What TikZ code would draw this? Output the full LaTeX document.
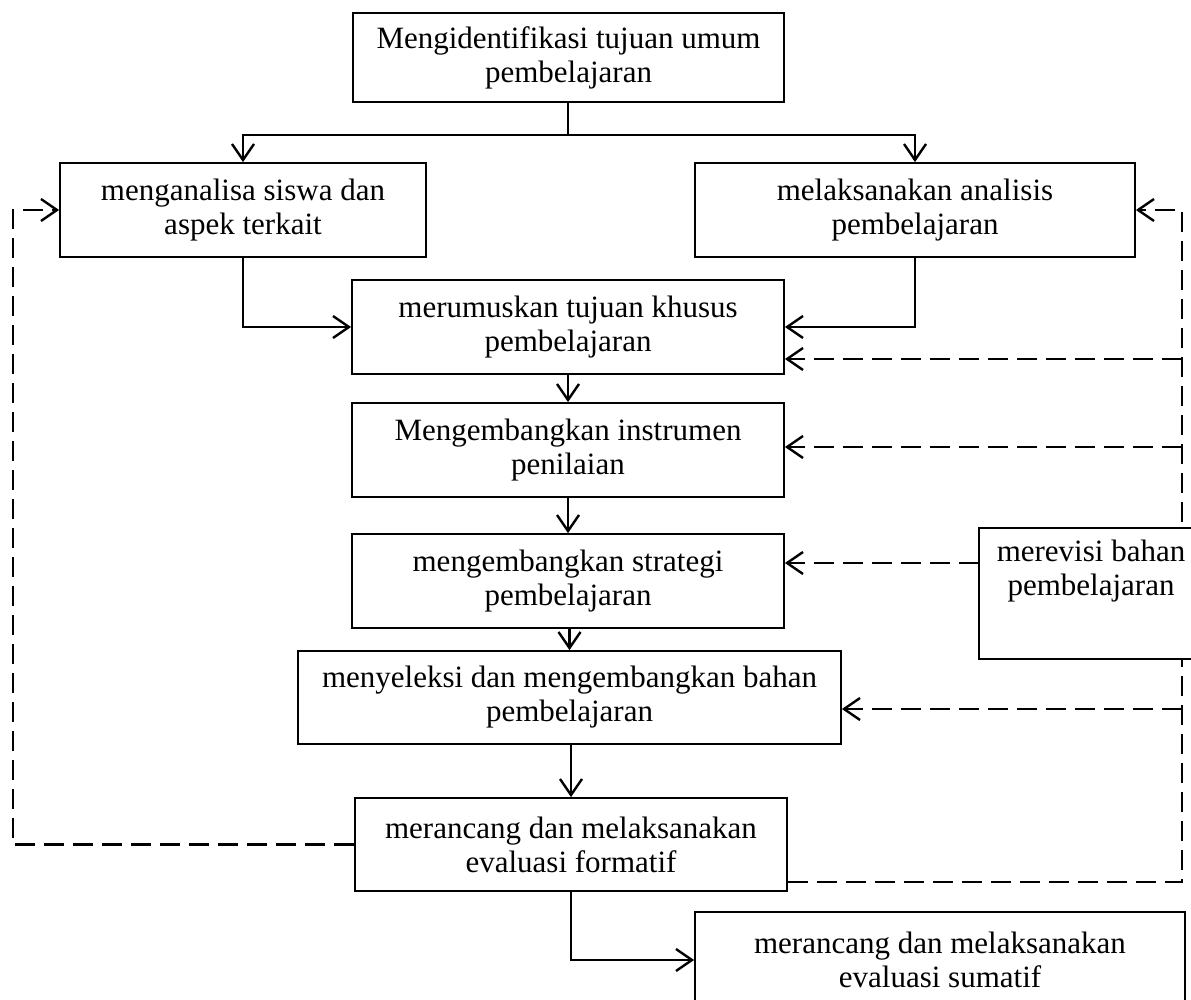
\documentclass[tikz,border=0pt]{standalone}
\usepackage{fontspec}
\setmainfont{Liberation Serif}
\usetikzlibrary{arrows.meta}
\begin{document}
\begin{tikzpicture}[x=1pt,y=-1pt,
  box/.style={draw, line width=1.8pt, fill=white, inner sep=0pt, align=center,
    font=\fontsize{31}{34}\selectfont},
  conn/.style={line width=2.4pt, -{Straight Barb[length=16pt,width=22pt,line width=2.4pt]}},
  plain/.style={line width=2.4pt},
  dsh/.style={line width=2.4pt, dash pattern=on 20pt off 9pt},
  dconn/.style={dsh, -{Straight Barb[length=16pt,width=22pt,line width=2.4pt]}}]
\useasboundingbox (0,0) rectangle (1191,1000);

\coordinate (rtop) at (1182,210);
\coordinate (rbot) at (1182,882);
\coordinate (r4) at (1182,359);
\coordinate (r5) at (1182,447);
\coordinate (r7) at (1182,709);
\coordinate (r6) at (979,563);
\coordinate (l1) at (13,844.5);
\coordinate (l2) at (13,210);

\node[box, minimum width=431pt, minimum height=89pt] (top) at (568.5,57.5)
  {Mengidentifikasi tujuan umum\\pembelajaran};
\node[box, minimum width=366pt, minimum height=94pt] (b2) at (243,210)
  {menganalisa siswa dan\\aspek terkait};
\node[box, minimum width=440pt, minimum height=94pt] (b3) at (915,210)
  {melaksanakan analisis\\pembelajaran};
\node[box, minimum width=432pt, minimum height=94pt] (b4) at (568,327)
  {merumuskan tujuan khusus\\pembelajaran};
\node[box, minimum width=432pt, minimum height=94pt] (b5) at (568,450)
  {Mengembangkan instrumen\\penilaian};
\node[box, minimum width=432pt, minimum height=94pt] (b6) at (568,581)
  {mengembangkan strategi\\pembelajaran};
\node[box, minimum width=543pt, minimum height=93pt] (b7) at (569.5,697.5)
  {menyeleksi dan mengembangkan bahan\\pembelajaran};
\node[box, minimum width=432pt, minimum height=93pt] (b8) at (571,844.5)
  {merancang dan melaksanakan\\evaluasi formatif};
\node[box, minimum width=490pt, minimum height=96pt] (b9) at (940,960)
  {merancang dan melaksanakan\\evaluasi sumatif};

% right dashed loop
\draw[dconn] (b8.east |- rbot) -- (rbot) -- (rtop) -- (b3.east);
\draw[dconn] (r4) -- (r4 -| b4.east);
\draw[dconn] (r5) -- (r5 -| b5.east);
\draw[dconn] (r7) -- (r7 -| b7.east);

% revision box on top of the dashed line
\node[box, minimum width=224pt, minimum height=131pt] (rev) at (1091,593.5) {};
\node[font=\fontsize{31}{34}\selectfont, align=center, anchor=north, inner sep=0pt]
  (revtext) at (1091,540) {merevisi bahan\\pembelajaran};
\draw[dconn] (r6) -- (r6 -| b6.east);

% left dashed loop
\draw[dconn] (b8.west) -- (l1) -- (l2) -- (b2.west);

% solid connectors
\coordinate (fork) at (568,135);
\draw[plain] (top.south -| fork) -- (fork);
\draw[conn] (fork) -| (b2.north);
\draw[conn] (fork) -| (b3.north);
\draw[conn] (b2.south) |- (b4.west);
\draw[conn] (b3.south) |- (b4.east);
\draw[conn] (b4.south) -- (b5.north);
\draw[conn] (b5.south) -- (b6.north);
\draw[conn] (b6.south -| b7.north) -- (b7.north);
\draw[conn] (b7.south -| b8.north) -- (b8.north);
\draw[conn] (b8.south) |- (b9.west);
\end{tikzpicture}
\end{document}
